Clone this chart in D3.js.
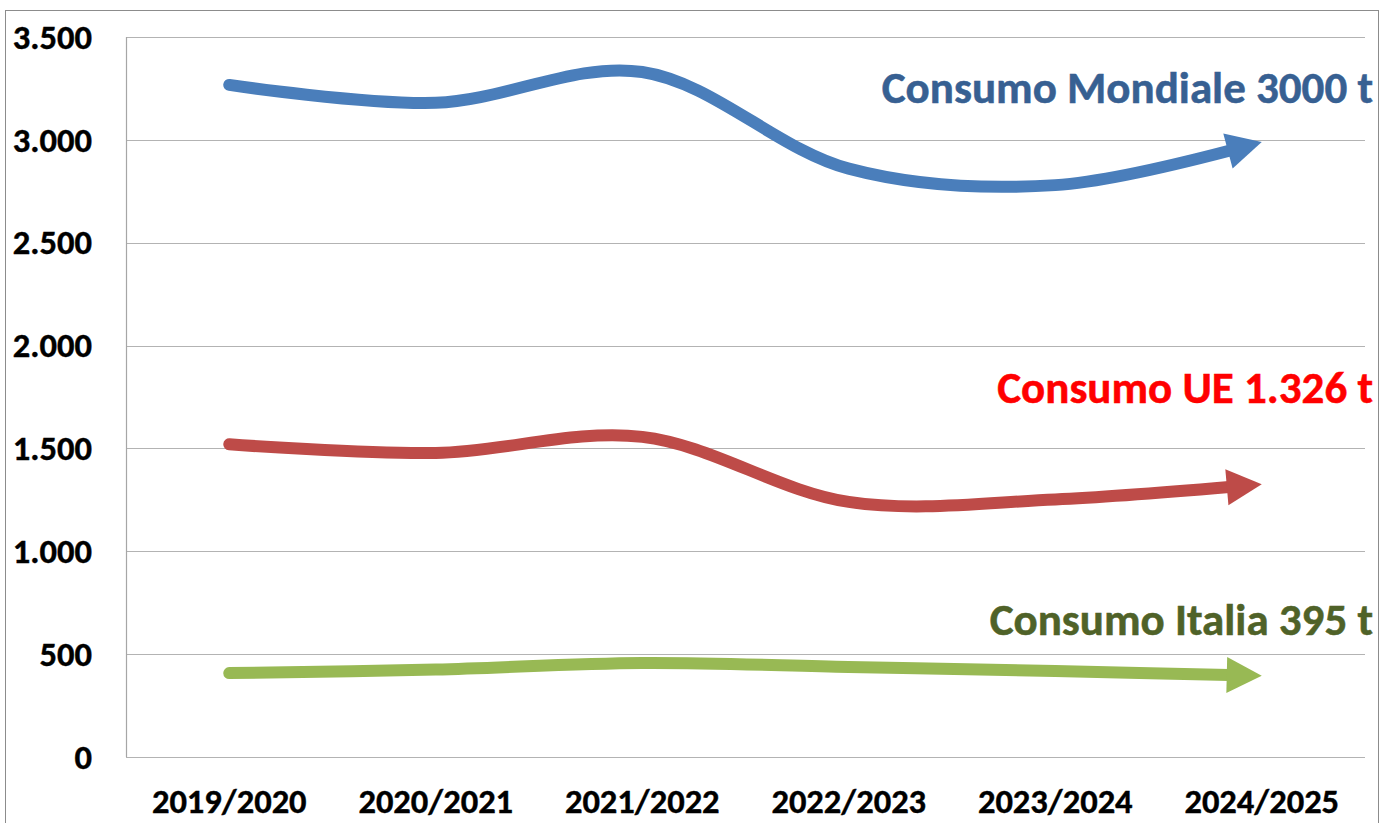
<!DOCTYPE html>
<html>
<head>
<meta charset="utf-8">
<script src="https://cdn.jsdelivr.net/npm/d3@7"></script>
<style>
  html, body { margin: 0; padding: 0; background: #ffffff; }
  svg { display: block; }
  text { font-family: Carlito, Calibri, "Open Sans", sans-serif; font-weight: bold; }
</style>
</head>
<body>
<svg id="chart" width="1389" height="823"></svg>
<script>
// ---- data ----
const categories = ["2019/2020", "2020/2021", "2021/2022", "2022/2023", "2023/2024", "2024/2025"];
const mondiale = [3267, 3180, 3330, 2860, 2780, 2990];
const ue       = [1520, 1478, 1556, 1240, 1252, 1326];
const italia   = [408, 425, 457, 438, 418, 395];
const yTicks   = [0, 500, 1000, 1500, 2000, 2500, 3000, 3500];
const seriesNames = ["Consumo Mondiale 3000 t", "Consumo UE 1.326 t", "Consumo Italia 395 t"];

const series = [
  { name: seriesNames[0], values: mondiale, color: "#4A7EBB", textColor: "#376092" },
  { name: seriesNames[1], values: ue,       color: "#BE4B48", textColor: "#FF0000" },
  { name: seriesNames[2], values: italia,   color: "#98B954", textColor: "#4F6228" }
];

// ---- layout ----
const plot = { left: 126, right: 1365, top: 37, bottom: 757 };

const svg = d3.select("#chart");

// outer border
svg.append("rect")
  .attr("x", 5.5).attr("y", 10.5)
  .attr("width", 1373).attr("height", 840)
  .attr("fill", "none").attr("stroke", "#8c8c8c").attr("stroke-width", 1);

const x = d3.scaleBand().domain(categories).range([plot.left, plot.right]);
const y = d3.scaleLinear().domain([0, 3500]).range([plot.bottom, plot.top]);
const cx = c => x(c) + x.bandwidth() / 2;

// gridlines
svg.append("g").selectAll("line").data(yTicks).join("line")
  .attr("x1", plot.left).attr("x2", plot.right)
  .attr("y1", d => Math.round(y(d)) + 0.5).attr("y2", d => Math.round(y(d)) + 0.5)
  .attr("stroke", "#b3b3b3").attr("stroke-width", 1.2);

// y axis line
svg.append("line")
  .attr("x1", plot.left + 0.5).attr("x2", plot.left + 0.5)
  .attr("y1", plot.top).attr("y2", plot.bottom)
  .attr("stroke", "#a6a6a6").attr("stroke-width", 1.2);

// y tick labels
const fmt = d => d3.format(",")(d).replace(/,/g, ".");
svg.append("g").selectAll("text").data(yTicks).join("text")
  .attr("x", 92).attr("y", d => y(d))
  .attr("dy", "0.34em")
  .attr("text-anchor", "end")
  .attr("font-size", 34.5)
  .attr("fill", "#000")
  .attr("stroke", "#000").attr("stroke-width", 0.4)
  .text(fmt);

// x labels
svg.append("g").selectAll("text").data(categories).join("text")
  .attr("x", d => cx(d)).attr("y", 813)
  .attr("text-anchor", "middle")
  .attr("font-size", 34.5)
  .attr("fill", "#000")
  .attr("stroke", "#000").attr("stroke-width", 0.4)
  .text(d => d);

// lines with arrowheads
const line = d3.line()
  .x((d, i) => cx(categories[i]))
  .y(d => y(d))
  .curve(d3.curveCatmullRom.alpha(0.5));

const headLen = 35, headHalf = 18;

series.forEach(s => {
  const path = svg.append("path")
    .attr("d", line(s.values))
    .attr("fill", "none")
    .attr("stroke", s.color)
    .attr("stroke-width", 12)
    .attr("stroke-linecap", "round");
  const node = path.node();
  const L = node.getTotalLength();
  path.attr("stroke-dasharray", `${L - headLen + 2} ${L + 100}`);
  const tip = node.getPointAtLength(L);
  const base = node.getPointAtLength(L - headLen);
  const ang = Math.atan2(tip.y - base.y, tip.x - base.x);
  const px = -Math.sin(ang), py = Math.cos(ang);
  const pts = [
    [tip.x, tip.y],
    [base.x + px * headHalf, base.y + py * headHalf],
    [base.x - px * headHalf, base.y - py * headHalf]
  ];
  svg.append("polygon")
    .attr("points", pts.map(p => p.join(",")).join(" "))
    .attr("fill", s.color);
});

// series labels
const labelY = [103, 403, 635];
svg.append("g").selectAll("text").data(series).join("text")
  .attr("x", 1373).attr("y", (d, i) => labelY[i])
  .attr("text-anchor", "end")
  .attr("font-size", 45)
  .attr("fill", d => d.textColor)
  .attr("stroke", d => d.textColor).attr("stroke-width", 0.5)
  .text(d => d.name);
</script>
</body>
</html>
